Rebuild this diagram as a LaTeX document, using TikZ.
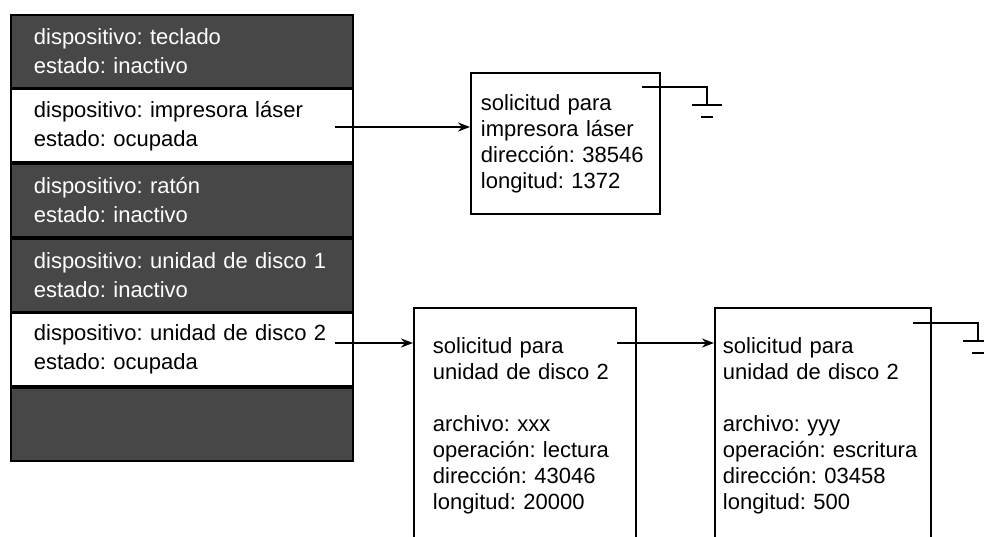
\documentclass[tikz,border=0pt]{standalone}
\usepackage{fontspec}
\setmainfont{Liberation Sans}
\usetikzlibrary{positioning,arrows.meta}
\frenchspacing

\tikzset{
  fila/.style={draw, line width=0.9pt, anchor=north west, minimum height=36.4pt,
    text width=148pt, inner xsep=11.5pt, align=left, font=\fontsize{11}{14.5}\selectfont},
  oscura/.style={fila, fill=black!72, text=white},
  solicitud/.style={draw, line width=0.9pt, anchor=north west, align=left,
    font=\fontsize{11}{13}\selectfont},
  flecha/.style={line width=0.9pt, -{Stealth[length=6pt,width=4.5pt]}},
  tierra/.style={line width=0.9pt}
}

\begin{document}
\begin{tikzpicture}[x=0.5pt, y=-0.5pt]
    \useasboundingbox (0,0) rectangle (984,536);
    \clip (0,0) rectangle (984,536);

    % tabla de estado de dispositivos
    \node[oscura] (teclado) at (10,14) {dispositivo: teclado\\estado: inactivo};
    \node[fila, below=0pt of teclado] (impresora) {dispositivo: impresora láser\\estado: ocupada};
    \node[oscura, below=0pt of impresora] (raton) {dispositivo: ratón\\estado: inactivo};
    \node[oscura, below=0pt of raton] (disco1) {dispositivo: unidad de disco 1\\estado: inactivo};
    \node[fila, below=0pt of disco1] (disco2) {dispositivo: unidad de disco 2\\estado: ocupada};
    \node[oscura, below=0pt of disco2] (resto) {};

    % solicitudes
    \node[solicitud, text width=84.5pt, inner xsep=5pt, minimum height=70.5pt] (solImp) at (470,72)
        {solicitud para\\impresora láser\\dirección: 38546\\longitud: 1372};
    \node[solicitud, text width=92pt, inner xsep=9.5pt, inner ysep=15pt] (solDiscoA) at (413,307)
        {solicitud para\\unidad de disco 2\\[13pt]archivo: xxx\\operación: lectura\\dirección: 43046\\longitud: 20000};
    \node[solicitud, text width=100pt, inner xsep=4pt, inner ysep=15pt] (solDiscoB) at (714,307)
        {solicitud para\\unidad de disco 2\\[13pt]archivo: yyy\\operación: escritura\\dirección: 03458\\longitud: 500};

    \coordinate (salImp) at (335,127);
    \draw[flecha] (salImp) -- (salImp -| solImp.west);
    \coordinate (salDisco) at (335,343);
    \draw[flecha] (salDisco) -- (salDisco -| solDiscoA.west);
    \coordinate (salSolA) at (617,343);
    \draw[flecha] (salSolA) -- (salSolA -| solDiscoB.west);

    % tierras
    \coordinate (finImp) at (642,87);
    \draw[tierra] (finImp) -- ++(65,0) -- ++(0,18) coordinate (tierraImp);
    \draw[tierra] ([xshift=-7.5pt]tierraImp) -- ([xshift=7.5pt]tierraImp);
    \draw[tierra] ([xshift=-3pt,yshift=-6pt]tierraImp) -- ([xshift=3pt,yshift=-6pt]tierraImp);
    \coordinate (finSolB) at (913,323);
    \draw[tierra] (finSolB) -- ++(65,0) -- ++(0,18) coordinate (tierraSolB);
    \draw[tierra] ([xshift=-7.5pt]tierraSolB) -- ([xshift=7.5pt]tierraSolB);
    \draw[tierra] ([xshift=-3pt,yshift=-6pt]tierraSolB) -- ([xshift=3pt,yshift=-6pt]tierraSolB);
\end{tikzpicture}
\end{document}
